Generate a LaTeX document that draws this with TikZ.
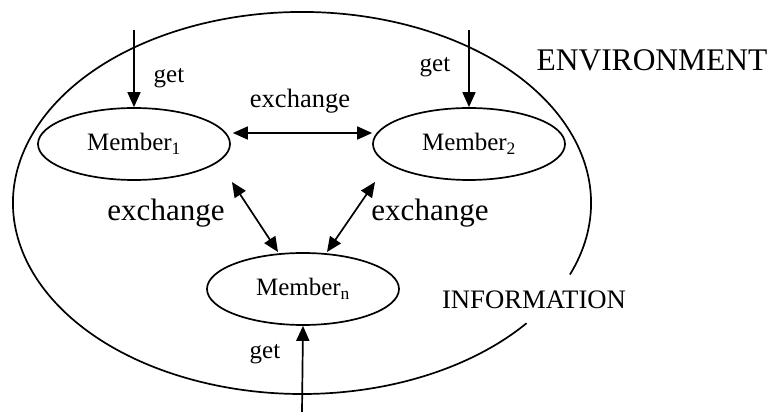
\documentclass[tikz,border=0pt]{standalone}
\usepackage{fontspec}
\setmainfont{Liberation Serif}
\usetikzlibrary{arrows.meta,shapes.geometric}
\tikzset{
  member/.style={draw, ellipse, line width=1.7pt, minimum width=192pt, minimum height=72pt,
                 inner sep=0pt, font=\fontsize{25}{28}\selectfont},
  flow/.style={line width=1.7pt, -{Triangle[length=15pt,width=13pt]}},
  both/.style={line width=1.7pt, {Triangle[length=15pt,width=13pt]}-{Triangle[length=15pt,width=13pt]}},
  lbl/.style={inner sep=0pt, anchor=base},
  small/.style={lbl, font=\fontsize{25}{28}\selectfont},
  big/.style={lbl, font=\fontsize{31}{34}\selectfont}
}
\begin{document}
\begin{tikzpicture}[x=1pt,y=1pt]
  \useasboundingbox (0,0) rectangle (771,412);

  % information boundary, left open where INFORMATION is written
  \draw[line width=1.7pt] (302,209) ++(-22:289 and 191) arc[start angle=-22, end angle=321, x radius=289, y radius=191];

  % members
  \node[member] (m1) at (134,268) {Member\textsubscript{1}};
  \node[member] (m2) at (469,268) {Member\textsubscript{2}};
  \node[member] (mn) at (303,123) {Member\textsubscript{n}};

  % external sources
  \coordinate (s1) at (134,382);
  \coordinate (s2) at (469,382);
  \coordinate (sn) at (302,0);

  \draw[flow] (s1) -- (m1.north);
  \draw[flow] (s2) -- (m2.north);
  \draw[flow] (sn) -- (mn.south);

  % exchanges between members
  \draw[both] ([shift={(2,11)}]m1.east) -- ([shift={(0,11)}]m2.west);
  \draw[both] ([shift={(98,-38)}]m1.center) -- ([shift={(-25,37)}]mn.center);
  \draw[both] ([shift={(-94,-38)}]m2.center) -- ([shift={(24,37)}]mn.center);

  % labels
  \node[small] (g1) at (169,329) {get};
  \node[small] (g2) at (435,340) {get};
  \node[small] (gn) at (265,53) {get};
  \node[small, font=\fontsize{26.5}{30}\selectfont] (e12) at (300,304) {exchange};
  \node[big] (e1n) at (166,191) {exchange};
  \node[big] (e2n) at (430,191) {exchange};
  \node[lbl, font=\fontsize{31.5}{34}\selectfont] (env) at (652,341) {ENVIRONMENT};
  \node[lbl, font=\fontsize{26.7}{30}\selectfont] (info) at (534,103) {INFORMATION};
\end{tikzpicture}
\end{document}
